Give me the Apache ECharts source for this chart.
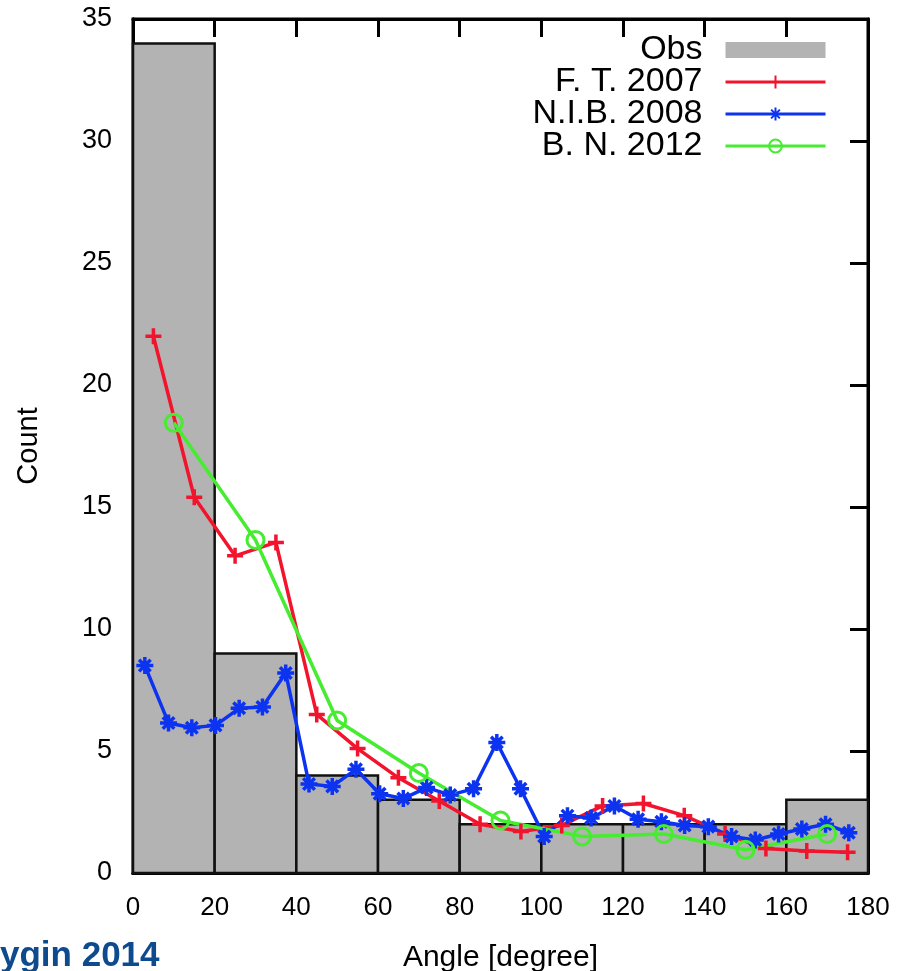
<!DOCTYPE html>
<html>
<head>
<meta charset="UTF-8">
<title>Echarts</title>
</head>
<script src="https://cdn.jsdelivr.net/npm/echarts@6.0.0/dist/echarts.min.js"></script>
<body style="margin:0;background:#fff;">
	<div id="main" style="width:910px;height:971px;"></div>
	<script type="text/javascript">
		// histogram bins of the observations
		var obsBinStart = [0, 20, 40, 60, 80, 100, 120, 140, 160];
		var obsBinEnd = [20, 40, 60, 80, 100, 120, 140, 160, 180];
		var obsCounts = [34, 9, 4, 3, 2, 2, 2, 2, 3];

		// F. T. 2007
		var ftAngles = [5, 15, 25, 35, 45, 55, 65, 75, 85, 95, 105, 115, 125, 135, 145, 155, 165, 175];
		var ftValues = [22.0, 15.4, 13.0, 13.55, 6.5, 5.1, 3.9, 2.95, 2.0, 1.7, 1.95, 2.75, 2.85, 2.35, 1.6, 1.0, 0.9, 0.85];

		// N.I.B. 2008
		var nibAngles = [2.9, 8.7, 14.4, 20.2, 26.0, 31.7, 37.4, 43.1, 48.8, 54.6, 60.4, 66.2, 71.9, 77.7, 83.4, 89.1,
			94.9, 100.7, 106.4, 112.2, 117.9, 123.7, 129.4, 135.1, 140.9, 146.6, 152.4, 158.1, 163.8, 169.6, 175.3];
		var nibValues = [8.5, 6.15, 5.95, 6.05, 6.75, 6.8, 8.2, 3.65, 3.55, 4.25, 3.25, 3.05, 3.5, 3.2, 3.45, 5.35,
			3.45, 1.5, 2.35, 2.25, 2.75, 2.2, 2.1, 1.95, 1.9, 1.5, 1.35, 1.6, 1.8, 2.0, 1.65];

		// B. N. 2012
		var bnAngles = [10, 30, 50, 70, 90, 110, 130, 150, 170];
		var bnValues = [18.45, 13.65, 6.25, 4.1, 2.15, 1.5, 1.6, 0.95, 1.6];

		var xTicks = {min: 0, max: 180, interval: 20};
		var yTicks = {min: 0, max: 35, interval: 5};

		function pairs(xs, ys) {
			return xs.map(function (x, i) { return [x, ys[i]]; });
		}

		var font = 'Liberation Sans';

		// plain axis used only for its inward tick marks
		function tickAxis(pos, ticks) {
			return {
				type: 'value', min: ticks.min, max: ticks.max, interval: ticks.interval,
				position: pos,
				axisLine: {show: true, onZero: false, lineStyle: {color: '#000', width: 3}},
				axisTick: {show: true, inside: true, length: 18, lineStyle: {color: '#000', width: 3}},
				splitLine: {show: false},
				axisLabel: {show: false}
			};
		}

		var xBottom = {
			type: 'value', min: xTicks.min, max: xTicks.max, interval: xTicks.interval,
			position: 'bottom',
			axisLine: {show: true, onZero: false, lineStyle: {color: '#000', width: 3}},
			axisTick: {show: false},
			splitLine: {show: false},
			axisLabel: {margin: 22, fontFamily: font, fontSize: 26, color: '#000'},
			name: 'Angle [degree]',
			nameLocation: 'middle',
			nameGap: 70,
			nameTextStyle: {fontFamily: font, fontSize: 30, color: '#000'}
		};

		var yLeft = {
			type: 'value', min: yTicks.min, max: yTicks.max, interval: yTicks.interval,
			position: 'left',
			axisLine: {show: true, onZero: false, lineStyle: {color: '#000', width: 3}},
			axisTick: {show: false},
			splitLine: {show: false},
			axisLabel: {margin: 21, fontFamily: font, fontSize: 27, color: '#000'},
			name: 'Count',
			nameLocation: 'middle',
			nameRotate: 90,
			nameGap: 90,
			nameTextStyle: {fontFamily: font, fontSize: 29, color: '#000'}
		};

		var myChart = echarts.init(document.getElementById('main'));
		var option = {
			backgroundColor: '#fff',
			animation: false,
			grid: {
				left: 133, right: 42, top: 19, bottom: 98,
				containLabel: false,
				outerBoundsMode: 'none',
				show: true, borderColor: '#000', borderWidth: 3
			},
			legend: {
				orient: 'vertical',
				right: 78,
				top: 28,
				align: 'right',
				itemWidth: 100,
				itemHeight: 16,
				itemGap: -2,
				selectedMode: false,
				lineStyle: {width: 3},
				textStyle: {fontFamily: font, fontSize: 34, color: '#000', padding: [0, 18, 0, 0]},
				data: [
					{name: 'Obs', icon: 'rect', itemStyle: {color: '#b3b3b3', borderWidth: 0}},
					'F. T. 2007', 'N.I.B. 2008', 'B. N. 2012'
				]
			},
			xAxis: [xBottom, tickAxis('top', xTicks), tickAxis('bottom', xTicks)],
			yAxis: [yLeft, tickAxis('right', yTicks), tickAxis('left', yTicks)],
			series: [
				{
					name: 'Obs',
					type: 'custom',
					itemStyle: {color: '#b3b3b3'},
					encode: {x: [0, 1], y: 2},
					data: obsBinStart.map(function (s, i) { return [s, obsBinEnd[i], obsCounts[i]]; }),
					renderItem: function (params, api) {
						var p0 = api.coord([api.value(0), api.value(2)]);
						var p1 = api.coord([api.value(1), 0]);
						return {
							type: 'rect',
							shape: {x: p0[0], y: p0[1], width: p1[0] - p0[0], height: p1[1] - p0[1]},
							style: {fill: '#b3b3b3', stroke: '#111', lineWidth: 2.5}
						};
					}
				},
				{
					name: 'F. T. 2007',
					type: 'line',
					data: pairs(ftAngles, ftValues),
					symbol: 'path://M5,0L5,10M0,5L10,5',
					symbolSize: 16,
					lineStyle: {color: '#f2142c', width: 3.5},
					itemStyle: {color: '#f2142c', borderColor: '#f2142c', borderWidth: 3.5}
				},
				{
					name: 'N.I.B. 2008',
					type: 'line',
					data: pairs(nibAngles, nibValues),
					symbol: 'path://M5,0L5,10M0,5L10,5M1.6,1.6L8.4,8.4M1.6,8.4L8.4,1.6',
					symbolSize: 17,
					lineStyle: {color: '#0c33f0', width: 3.5},
					itemStyle: {color: '#0c33f0', borderColor: '#0c33f0', borderWidth: 3.5}
				},
				{
					name: 'B. N. 2012',
					type: 'line',
					data: pairs(bnAngles, bnValues),
					symbol: 'path://M10,5A5,5,0,1,1,0,5A5,5,0,1,1,10,5Z',
					symbolSize: 17,
					lineStyle: {color: '#45ec30', width: 3.5},
					itemStyle: {color: 'rgba(0,0,0,0)', borderColor: '#45ec30', borderWidth: 3}
				}
			],
			graphic: [
				{
					type: 'text',
					left: 0,
					top: 939,
					style: {
						text: 'ygin 2014',
						fontFamily: font,
						fontWeight: 'bold',
						fontSize: 35,
						fill: '#0d4a8e'
					}
				}
			]
		};
		myChart.setOption(option);
	</script>
</body>
</html>
